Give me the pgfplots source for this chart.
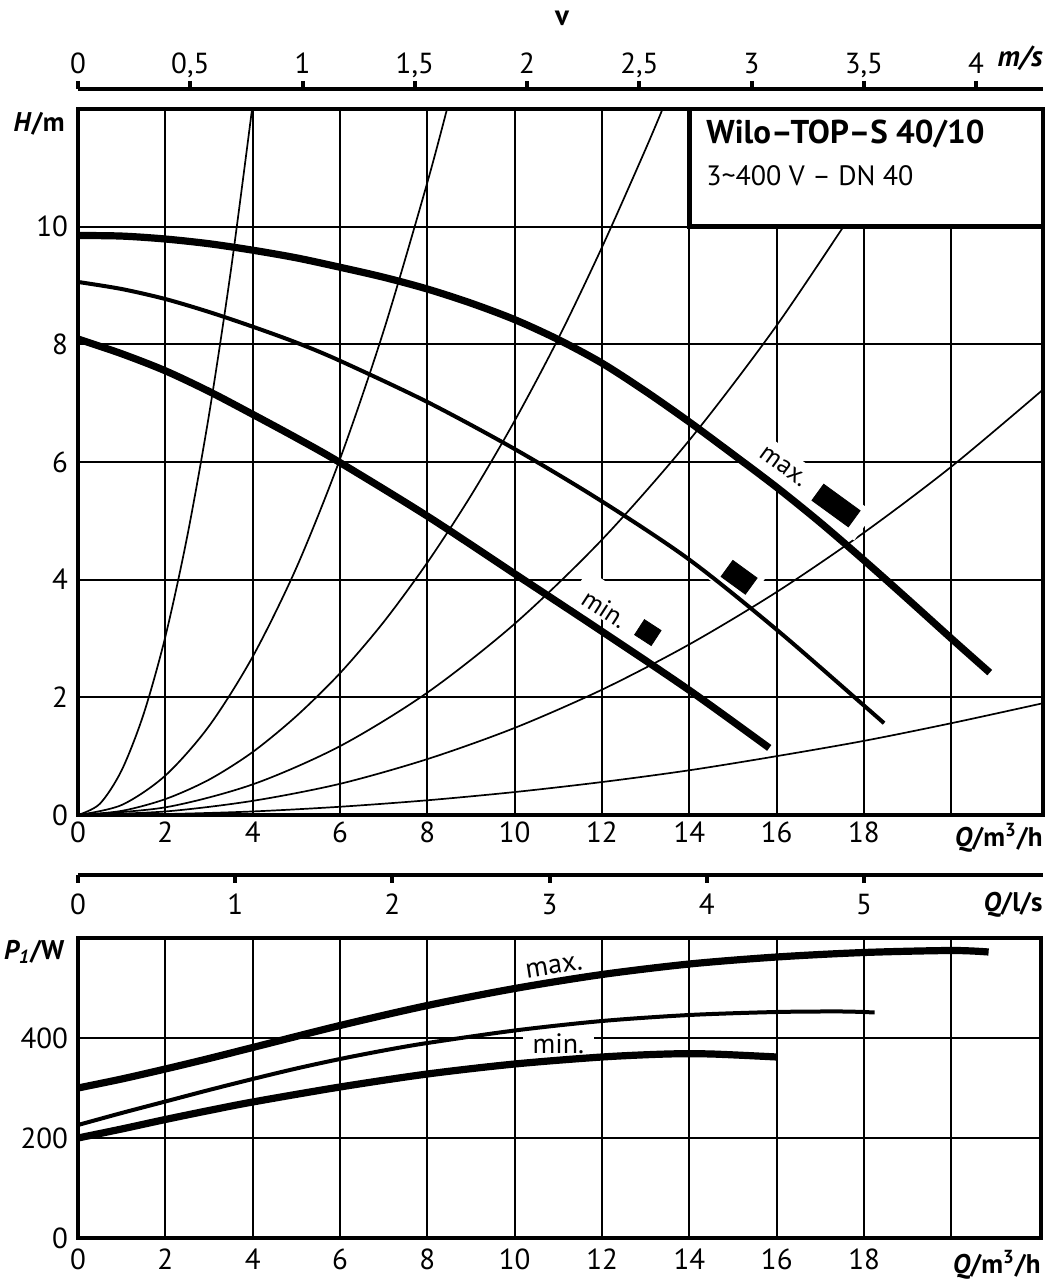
\documentclass[border=0pt]{standalone}
\usepackage{fontspec}
\setmainfont{PT Sans}
\usepackage{pgfplots}
\pgfplotsset{compat=1.18}
\newcommand{\tl}{\fontsize{14.5}{17}\selectfont}
\newcommand{\ul}{\fontsize{13.5}{16}\selectfont}
\pgfplotsset{
  chart/.style={
    scale only axis, xmin=0, clip mode=individual,
    axis line style={line width=2.2pt},
    grid=major, grid style={line width=1pt, black},
    major tick length=0pt,
    tick label style={font=\tl, /pgf/number format/assume math mode=true},
    xtick={0,2,...,20},
    xticklabels={0,2,4,6,8,10,12,14,16,18,{}},
    yticklabel style={xshift=-1.5pt},
  },
  scaleaxis/.style={
    scale only axis, height=1pt, hide y axis, ymin=0, ymax=1,
    axis line style={line width=2pt},
    xtick align=outside, major tick length=4pt,
    tick style={line width=2pt, black},
    tick label style={font=\tl, text depth=0pt, /pgf/number format/assume math mode=true},
  },
  syscurve/.style={black, line width=0.85pt, smooth},
}
\begin{document}
\begin{tikzpicture}
\path[use as bounding box] (0,0) rectangle (524pt,640pt);

% velocity scale
\begin{axis}[scaleaxis, at={(39pt,595.5pt)}, anchor=north west,
  width=482.5pt, xmin=0, xmax=4.298,
  axis x line*=top, x axis line style={-},
  xtick={0,0.5,...,4},
  xticklabels={0,{0,5},1,{1,5},2,{2,5},3,{3,5},4}]
\end{axis}
\node[font=\bfseries\tl] at (281pt,631pt) {v};
\node[anchor=east, inner sep=0pt, font=\bfseries\itshape\tl] at (521.5pt,611pt) {m/s};

% H(Q)
\begin{axis}[chart, name=top, at={(39pt,232.5pt)}, anchor=south west,
  width=482.5pt, height=353pt, xmax=22.1, ymin=0, ymax=12,
  ytick={0,2,...,10}]

  % system curves
  \addplot[syscurve] coordinates {(0,0) (0.5,0.19) (1,0.76) (1.5,1.71) (2,3.03) (2.5,4.73) (3,6.8) (3.5,9.25) (4,12.08)};
  \addplot[syscurve] coordinates {(0,0) (1,0.17) (2,0.67) (3,1.51) (4,2.69) (5,4.2) (6,6.05) (7,8.23) (8,10.75) (8.5,12.14)};
  \addplot[syscurve] coordinates {(0,0) (1,0.07) (2,0.27) (3,0.6) (4,1.07) (5,1.68) (6,2.41) (7,3.28) (8,4.29) (9,5.43) (10,6.7) (11,8.1) (12,9.65) (13,11.32) (13.5,12.2)};
  \addplot[syscurve] coordinates {(0,0) (2,0.13) (4,0.52) (6,1.17) (8,2.08) (10,3.25) (12,4.68) (14,6.37) (16,8.32) (18,10.53)};
  \addplot[syscurve] coordinates {(0,0) (2,0.06) (4,0.24) (6,0.53) (8,0.95) (10,1.48) (12,2.13) (14,2.9) (16,3.79) (18,4.8) (20,5.92) (22.1,7.23)};
  \addplot[syscurve] coordinates {(0,0) (2,0.016) (4,0.06) (6,0.14) (8,0.25) (10,0.39) (12,0.56) (14,0.76) (16,1.0) (18,1.26) (20,1.56) (22.1,1.9)};

  % title box
  \draw[line width=2.2pt, fill=white] (axis cs:14,10) rectangle (axis cs:22.1,12);
  \node[anchor=west, inner sep=0pt, font=\bfseries\fontsize{16.5}{19}\selectfont] at (axis cs:14.38,11.57) {Wilo–TOP–S 40/10};
  \node[anchor=west, inner sep=0pt, font=\fontsize{14}{16}\selectfont] at (axis cs:14.38,10.87) {3\textasciitilde 400 V – DN 40};

  % white bands behind speed labels
  \node[fill=white, rotate=-36, minimum width=72pt, minimum height=17pt, inner sep=0pt] at (axis cs:16.67,5.62) {};
  \node[fill=white, rotate=-36, minimum width=26pt, minimum height=20pt, inner sep=0pt] at (axis cs:15.07,4.09) {};
  \node[fill=white, rotate=-33, minimum width=50pt, minimum height=17pt, inner sep=0pt] at (axis cs:12.43,3.46) {};
  \node[rotate=-36, font=\fontsize{13}{15}\selectfont] at (axis cs:16.15,5.92) {max.};
  \node[rotate=-33, font=\fontsize{13}{15}\selectfont] at (axis cs:12.06,3.51) {min.};

  % pump curves
  \addplot[black, line width=3.6pt, smooth] coordinates {(0,9.85) (1,9.84) (2,9.79) (3,9.71) (4,9.6) (5,9.47) (6,9.31) (7,9.14) (8,8.94) (9,8.7) (10,8.42) (11,8.08) (12,7.68) (13,7.2) (14,6.68) (15,6.13) (16,5.57) (17,4.97) (18,4.33) (19,3.67) (20,3.0) (20.88,2.42)};
  \addplot[black, line width=2pt, smooth] coordinates {(0,9.06) (1,8.94) (2,8.77) (3,8.55) (4,8.30) (5,8.03) (6,7.72) (8,7.02) (10,6.22) (12,5.33) (14,4.34) (16,3.15) (18,1.86) (18.46,1.56)};
  \addplot[black, line width=3.6pt, smooth] coordinates {(0,8.09) (1,7.84) (2,7.55) (3,7.2) (4,6.81) (5,6.41) (6,5.99) (8,5.08) (10,4.1) (12,3.12) (14,2.12) (15.83,1.14)};

  % speed markers
  \addplot[only marks, mark=square*, mark size=5pt, mark options={fill=black, draw=none, rotate=-36, xscale=2.25}] coordinates {(17.36,5.26)};
  \addplot[only marks, mark=square*, mark size=5pt, mark options={fill=black, draw=none, rotate=-36, xscale=1.5}] coordinates {(15.14,4.04)};
  \addplot[only marks, mark=square*, mark size=4.5pt, mark options={fill=black, draw=none, rotate=-33, xscale=1.1}] coordinates {(13.05,3.10)};

  \node[anchor=east, inner sep=0pt, font=\bfseries\ul] at (axis cs:-0.3,11.75) {\textit{H}/m};
  \node[anchor=east, inner sep=0pt, font=\bfseries\ul] at (axis cs:22.1,-0.39) {\textit{Q}/m\textsuperscript{3}/h};
\end{axis}

% Q in l/s scale
\begin{axis}[scaleaxis, at={(39pt,202.5pt)}, anchor=south west,
  width=482.5pt, xmin=0, xmax=6.139,
  axis x line*=bottom, x axis line style={-},
  xticklabel style={yshift=-2pt},
  xtick={0,1,...,5}]
\end{axis}
\node[anchor=east, inner sep=0pt, font=\bfseries\ul] at (521.5pt,187.5pt) {\textit{Q}/l/s};

% P1(Q)
\begin{axis}[chart, name=bot, at={(39pt,21pt)}, anchor=south west,
  width=481.5pt, height=150pt, xmax=22.05, ymin=0, ymax=600,
  ytick={0,200,400},
  xticklabel style={yshift=-2pt}]

  \node[fill=white, inner xsep=5pt, inner ysep=1pt, font=\fontsize{14}{16}\selectfont] at (axis cs:11,388) {min.};
  \node[rotate=9, font=\fontsize{14}{16}\selectfont] at (axis cs:10.9,542) {max.};

  \addplot[black, line width=3.6pt, smooth] coordinates {(0,300) (1,318) (2,338) (3,359) (4,381) (6,425) (8,465) (10,499) (12,527) (14,548) (16,562) (18,571) (20,575) (20.85,572)};
  \addplot[black, line width=2pt, smooth] coordinates {(0,226) (1,250) (2,273) (3,296) (4,318) (5,339) (6,358) (7,375) (8,390) (10,415) (12,434) (14,446) (16,452) (17.5,453) (18.24,451)};
  \addplot[black, line width=3.6pt, smooth] coordinates {(0,200) (1,218) (2,237) (3,255) (4,272) (6,302) (8,328) (10,348) (12,362) (13.5,368) (14.5,368) (16,362)};

  \node[anchor=east, inner sep=0pt, font=\bfseries\ul] at (axis cs:-0.3,572) {\textit{P\textsubscript{1}}/W};
  \node[anchor=east, inner sep=0pt, font=\bfseries\ul] at (axis cs:22.05,-54) {\textit{Q}/m\textsuperscript{3}/h};
\end{axis}
\end{tikzpicture}
\end{document}
